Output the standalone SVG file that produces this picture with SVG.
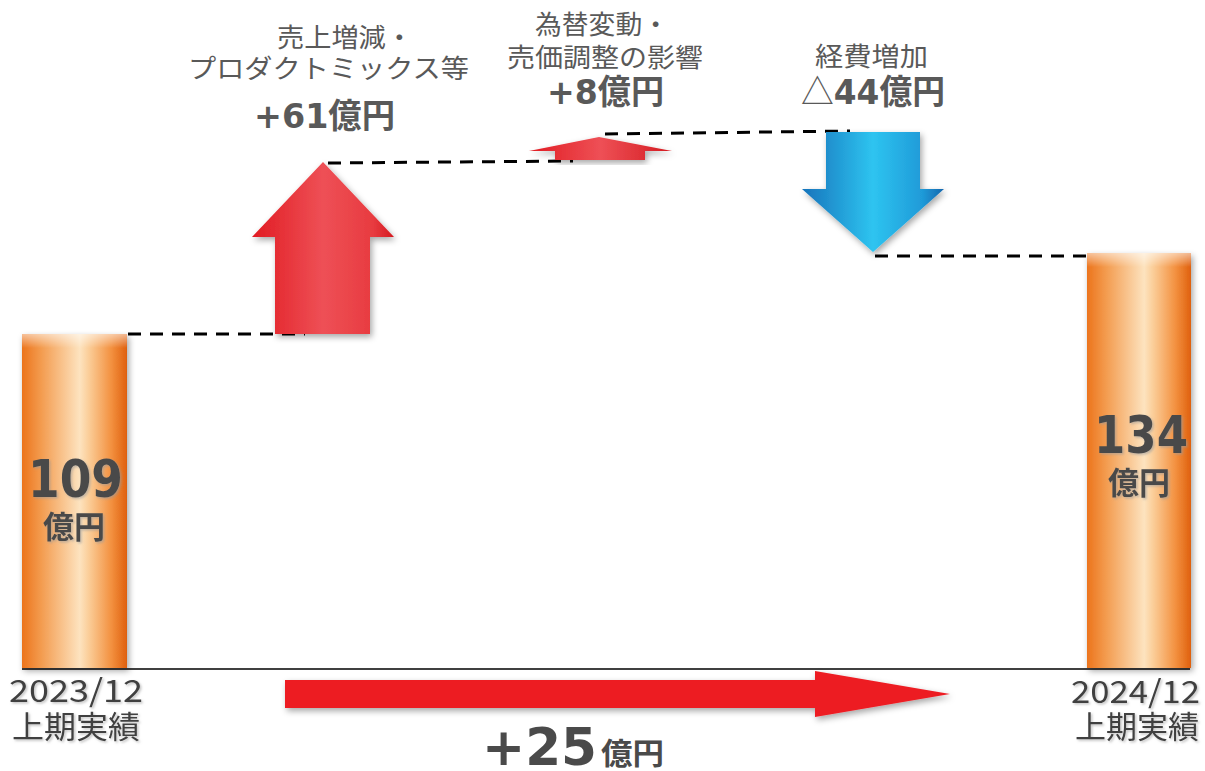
<svg xmlns="http://www.w3.org/2000/svg" width="1205" height="771" viewBox="0 0 1205 771">
<defs>
<linearGradient id="gOrange" x1="0" y1="0" x2="1" y2="0">
<stop offset="0" stop-color="#ec741c"/>
<stop offset="0.18" stop-color="#f39b4e"/>
<stop offset="0.55" stop-color="#fde3bf"/>
<stop offset="0.63" stop-color="#fbcf9b"/>
<stop offset="0.85" stop-color="#f39140"/>
<stop offset="1" stop-color="#df600e"/>
</linearGradient>
<linearGradient id="gTop" x1="0" y1="0" x2="0" y2="1">
<stop offset="0" stop-color="#ffffff" stop-opacity="0.55"/>
<stop offset="1" stop-color="#ffffff" stop-opacity="0"/>
</linearGradient>
<linearGradient id="gRedBig" x1="252" y1="0" x2="394" y2="0" gradientUnits="userSpaceOnUse">
<stop offset="0" stop-color="#e11b22"/>
<stop offset="0.5" stop-color="#ee5056"/>
<stop offset="0.85" stop-color="#e83b40"/>
<stop offset="1" stop-color="#d41a20"/>
</linearGradient>
<linearGradient id="gRedSmall" x1="529" y1="0" x2="672" y2="0" gradientUnits="userSpaceOnUse">
<stop offset="0" stop-color="#e11b22"/>
<stop offset="0.5" stop-color="#ee5056"/>
<stop offset="1" stop-color="#d41a20"/>
</linearGradient>
<linearGradient id="gBlue" x1="802" y1="0" x2="944" y2="0" gradientUnits="userSpaceOnUse">
<stop offset="0" stop-color="#1773bb"/>
<stop offset="0.5" stop-color="#2ec4f0"/>
<stop offset="0.85" stop-color="#1f9ad8"/>
<stop offset="1" stop-color="#1566ad"/>
</linearGradient>
<filter id="shadow" x="-20%" y="-20%" width="140%" height="140%">
<feDropShadow dx="2" dy="3" stdDeviation="3" flood-color="#000" flood-opacity="0.35"/>
</filter>
<filter id="tshadow" x="-10%" y="-10%" width="120%" height="130%">
<feDropShadow dx="1.5" dy="1.5" stdDeviation="1" flood-color="#999" flood-opacity="0.6"/>
</filter>
</defs>
<style>
.lbl{font-family:"Noto Sans CJK JP","Noto Sans",sans-serif;font-size:26px;fill:#595959}
.num{font-family:"DejaVu Sans","Noto Sans CJK JP",sans-serif;font-weight:bold;fill:#595959}
.cjkb{font-family:"Noto Sans CJK JP",sans-serif;font-weight:bold}
.barnum{font-family:"DejaVu Sans","Noto Sans CJK JP",sans-serif;font-weight:bold;fill:#4a4a4a}
.axis{font-family:"Noto Sans CJK JP","Noto Sans",sans-serif;font-size:31px;fill:#404040}
.dash{stroke:#000;stroke-width:3;stroke-dasharray:13 9;fill:none}
</style>
<rect width="1205" height="771" fill="#fff"/>

<g id="connectors">
<line x1="22" y1="669" x2="1190" y2="669" stroke="#000" stroke-width="1.5"/>
<line class="dash" x1="128" y1="334" x2="305" y2="334"/>
<line class="dash" x1="328" y1="163" x2="573" y2="161"/>
<line class="dash" x1="605" y1="134" x2="850" y2="131"/>
<line class="dash" x1="875" y1="256" x2="1086" y2="256"/>
</g>

<g id="bar-2023">
<rect x="22" y="334" width="105" height="334" fill="url(#gOrange)" filter="url(#shadow)"/>
<rect x="22" y="334" width="105" height="14" fill="url(#gTop)"/>
<text class="barnum" x="28" y="497" font-size="51" textLength="95" lengthAdjust="spacingAndGlyphs" filter="url(#tshadow)">109</text>
<text class="barnum cjkb" x="43" y="538" font-size="31" textLength="62" lengthAdjust="spacingAndGlyphs" filter="url(#tshadow)">億円</text>
<text class="axis" x="9" y="702" textLength="134" lengthAdjust="spacingAndGlyphs" filter="url(#tshadow)">2023/12</text>
<text class="axis" x="12" y="738" textLength="128" lengthAdjust="spacingAndGlyphs" filter="url(#tshadow)">上期実績</text>
</g>

<g id="bar-2024">
<rect x="1087" y="253" width="104" height="415" fill="url(#gOrange)" filter="url(#shadow)"/>
<rect x="1087" y="253" width="104" height="14" fill="url(#gTop)"/>
<text class="barnum" x="1094" y="453" font-size="51" textLength="94" lengthAdjust="spacingAndGlyphs" filter="url(#tshadow)">134</text>
<text class="barnum cjkb" x="1108" y="494" font-size="31" textLength="62" lengthAdjust="spacingAndGlyphs" filter="url(#tshadow)">億円</text>
<text class="axis" x="1071" y="703" textLength="129" lengthAdjust="spacingAndGlyphs" filter="url(#tshadow)">2024/12</text>
<text class="axis" x="1075" y="738" textLength="124" lengthAdjust="spacingAndGlyphs" filter="url(#tshadow)">上期実績</text>
</g>

<g id="arrow-sales">
<polygon points="275,334 275,237 252,237 323,162 394,237 370,237 370,334" fill="url(#gRedBig)" filter="url(#shadow)"/>
<text class="lbl" x="277" y="47" textLength="136" lengthAdjust="spacingAndGlyphs">売上増減・</text>
<text class="lbl" x="188" y="78" textLength="281" lengthAdjust="spacingAndGlyphs">プロダクトミックス等</text>
<text class="num" x="254" y="128" font-size="34" textLength="141" lengthAdjust="spacingAndGlyphs">+61億円</text>
</g>

<g id="arrow-fx">
<polygon points="555,160 555,151 529,151 599,137 672,151 645,151 645,160" fill="url(#gRedSmall)" filter="url(#shadow)"/>
<text class="lbl" x="535" y="34" textLength="134" lengthAdjust="spacingAndGlyphs">為替変動・</text>
<text class="lbl" x="507" y="67" textLength="196" lengthAdjust="spacingAndGlyphs">売価調整の影響</text>
<text class="num" x="547" y="104" font-size="34" textLength="117" lengthAdjust="spacingAndGlyphs">+8億円</text>
</g>

<g id="arrow-cost">
<polygon points="826,132 920,132 920,189 944,189 873,252 802,189 826,189" fill="url(#gBlue)" filter="url(#shadow)"/>
<text class="lbl" x="815" y="66" textLength="113" lengthAdjust="spacingAndGlyphs">経費増加</text>
<text class="num" x="801" y="104" font-size="34" textLength="144" lengthAdjust="spacingAndGlyphs"><tspan font-weight="normal" font-family="Noto Sans CJK JP, sans-serif">△</tspan>44億円</text>
</g>

<g id="arrow-total">
<polygon points="285,680 815,680 815,671 950,694 815,717 815,708 285,708" fill="#ed1c24" filter="url(#shadow)"/>
<text class="barnum" x="482" y="765" font-size="52" textLength="115" lengthAdjust="spacingAndGlyphs">+25</text>
<text class="barnum cjkb" x="601" y="764" font-size="30" textLength="63" lengthAdjust="spacingAndGlyphs">億円</text>
</g>
</svg>
